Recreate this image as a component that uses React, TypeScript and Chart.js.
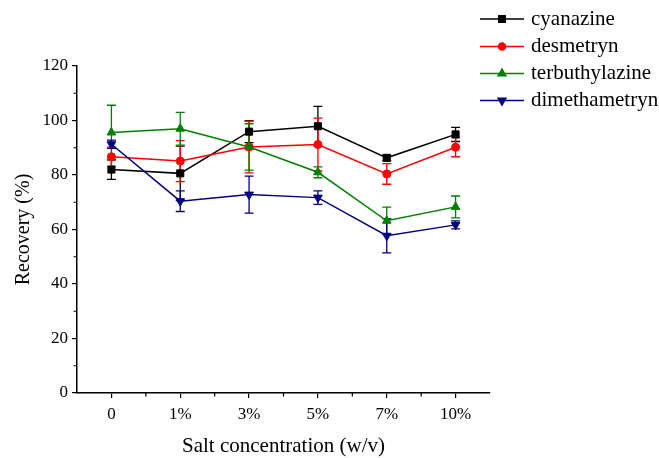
import React, { useEffect, useRef } from "react";
import { Chart, registerables } from "chart.js";
import { drawPoint } from "chart.js/helpers";

Chart.register(...registerables);

const categories = ["0", "1%", "3%", "5%", "7%", "10%"];
const seriesNames = ["cyanazine", "desmetryn", "terbuthylazine", "dimethametryn"];
const cyanazine = [82.0, 80.6, 95.9, 97.9, 86.3, 94.9];
const cyanazineErr = [3.6, 10.0, 4.0, 7.3, 1.0, 2.6];
const desmetryn = [86.7, 85.1, 90.3, 91.2, 80.4, 90.2];
const desmetrynErr = [3.5, 7.5, 9.5, 9.7, 3.8, 3.5];
const terbuthylazine = [95.6, 97.0, 90.3, 81.0, 63.2, 68.3];
const terbuthylazineErr = [10.0, 6.0, 8.5, 2.0, 5.0, 4.0];
const dimethametryn = [91.3, 70.4, 72.8, 71.7, 57.7, 61.7];
const dimethametrynErr = [1.5, 3.8, 6.8, 2.5, 6.3, 1.5];
const yTicks = [0, 20, 40, 60, 80, 100, 120];

const FONT = "'Liberation Serif', 'Times New Roman', serif";

const styles = [
  { color: "#000000", pointStyle: "rect", radius: 5, rotation: 0 },
  { color: "#ff0000", pointStyle: "circle", radius: 4, rotation: 0 },
  { color: "#008000", pointStyle: "triangle", radius: 5, rotation: 0 },
  { color: "#000080", pointStyle: "triangle", radius: 5, rotation: 180 },
];

const values = [cyanazine, desmetryn, terbuthylazine, dimethametryn];
const errors = [cyanazineErr, desmetrynErr, terbuthylazineErr, dimethametrynErr];

const extrasPlugin = {
  id: "extras",
  beforeDatasetsDraw(chart: any) {
    const ctx = chart.ctx;
    const xs = chart.scales.x;
    const ys = chart.scales.y;
    ctx.save();
    for (let i = 0; i < values.length; i++) {
      ctx.strokeStyle = styles[i].color;
      ctx.lineWidth = 1.3;
      for (let j = 0; j < values[i].length; j++) {
        const x = xs.getPixelForValue(j);
        const yT = ys.getPixelForValue(values[i][j] + errors[i][j]);
        const yB = ys.getPixelForValue(values[i][j] - errors[i][j]);
        ctx.beginPath();
        ctx.moveTo(x, yT);
        ctx.lineTo(x, yB);
        ctx.moveTo(x - 4.5, yT);
        ctx.lineTo(x + 4.5, yT);
        ctx.moveTo(x - 4.5, yB);
        ctx.lineTo(x + 4.5, yB);
        ctx.stroke();
      }
    }
    ctx.restore();
  },
  afterDraw(chart: any) {
    const ctx = chart.ctx;
    const xs = chart.scales.x;
    const ys = chart.scales.y;
    const area = chart.chartArea;
    ctx.save();
    ctx.strokeStyle = "#000";
    ctx.lineWidth = 1.2;
    ctx.beginPath();
    for (let v = 10; v < 120; v += 20) {
      const y = ys.getPixelForValue(v);
      ctx.moveTo(area.left, y);
      ctx.lineTo(area.left - 3.5, y);
    }
    for (let j = 0; j < categories.length - 1; j++) {
      const x = (xs.getPixelForValue(j) + xs.getPixelForValue(j + 1)) / 2;
      ctx.moveTo(x, area.bottom);
      ctx.lineTo(x, area.bottom + 3.5);
    }
    ctx.stroke();

    ctx.fillStyle = "#000";
    ctx.font = `21px ${FONT}`;
    ctx.textAlign = "center";
    ctx.textBaseline = "middle";
    ctx.fillText("Salt concentration (w/v)", (area.left + area.right) / 2, 446);
    ctx.save();
    ctx.translate(24, (area.top + area.bottom) / 2);
    ctx.rotate(-Math.PI / 2);
    ctx.font = `20px ${FONT}`;
    ctx.fillText("Recovery (%)", 0, 0);
    ctx.restore();

    const legendY = [19, 46.5, 73.5, 100.5];
    ctx.textAlign = "left";
    for (let i = 0; i < seriesNames.length; i++) {
      const y = legendY[i];
      ctx.strokeStyle = styles[i].color;
      ctx.lineWidth = 1.5;
      ctx.beginPath();
      ctx.moveTo(480, y);
      ctx.lineTo(524, y);
      ctx.stroke();
      ctx.fillStyle = styles[i].color;
      drawPoint(
        ctx,
        {
          pointStyle: styles[i].pointStyle,
          radius: styles[i].radius - 0.5,
          rotation: styles[i].rotation,
          borderWidth: 1,
        } as any,
        502,
        y
      );
      ctx.fillStyle = "#000";
      ctx.font = `21px ${FONT}`;
      ctx.fillText(seriesNames[i], 531, y);
    }
    ctx.restore();
  },
};

export default function App() {
  const canvasRef = useRef<HTMLCanvasElement | null>(null);

  useEffect(() => {
    document.body.style.margin = "0";
    const canvas = canvasRef.current;
    if (!canvas) return;
    const datasets = values.map((data, i) => ({
      label: seriesNames[i],
      data,
      borderColor: styles[i].color,
      backgroundColor: styles[i].color,
      borderWidth: 1.5,
      pointStyle: styles[i].pointStyle as any,
      pointRadius: styles[i].radius,
      pointRotation: styles[i].rotation,
      pointBorderWidth: 1,
      pointBorderColor: styles[i].color,
      pointBackgroundColor: styles[i].color,
      tension: 0,
      order: 3 - i,
    }));
    const chart = new Chart(canvas, {
      type: "line",
      data: { labels: categories, datasets },
      options: {
        responsive: false,
        animation: false,
        devicePixelRatio: 1,
        layout: { padding: { top: 66, right: 169, left: 0, bottom: 0 } },
        plugins: {
          legend: { display: false },
          tooltip: { enabled: false },
        },
        scales: {
          x: {
            type: "category",
            offset: true,
            grid: {
              display: true,
              drawOnChartArea: false,
              drawTicks: true,
              tickLength: 5,
              color: "#000",
              lineWidth: 1.2,
              offset: false,
            },
            border: { display: true, color: "#000", width: 1.5 },
            ticks: {
              color: "#000",
              font: { family: FONT, size: 17 },
              padding: 6,
              maxRotation: 0,
            },
            afterFit(scale: any) {
              scale.height = 65;
            },
          },
          y: {
            min: 0,
            max: 120,
            afterBuildTicks(scale: any) {
              scale.ticks = yTicks.map((v) => ({ value: v }));
            },
            grid: {
              display: true,
              drawOnChartArea: false,
              drawTicks: true,
              tickLength: 5,
              color: "#000",
              lineWidth: 1.2,
            },
            border: { display: true, color: "#000", width: 1.5 },
            ticks: {
              color: "#000",
              font: { family: FONT, size: 17 },
              padding: 4,
            },
            afterFit(scale: any) {
              scale.width = 77;
            },
          },
        },
      },
      plugins: [extrasPlugin],
    });
    return () => chart.destroy();
  }, []);

  return (
    <div style={{ width: 659, height: 458, background: "#fff" }}>
      <canvas ref={canvasRef} width={659} height={458} style={{ display: "block" }} />
    </div>
  );
}
